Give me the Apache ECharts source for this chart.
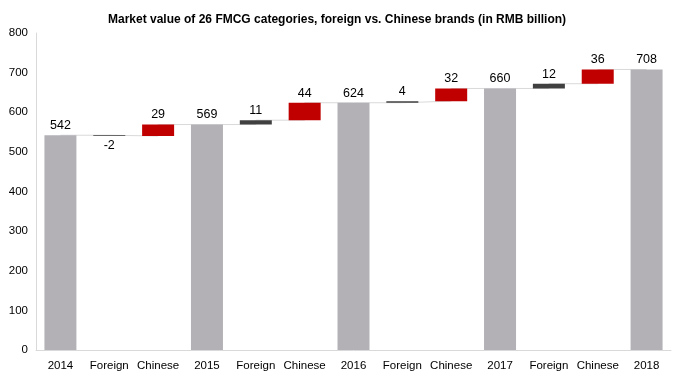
<!DOCTYPE html>
<html>
<head>
<meta charset="utf-8">
<script src="https://cdn.jsdelivr.net/npm/echarts@6/dist/echarts.min.js"></script>
<style>html,body{margin:0;padding:0;background:#fff}#c{width:696px;height:392px}</style>
</head>
<body>
<div id="c"></div>
<script>
const titleText = 'Market value of 26 FMCG categories, foreign vs. Chinese brands (in RMB billion)';
const categories = ['2014','Foreign','Chinese','2015','Foreign','Chinese','2016','Foreign','Chinese','2017','Foreign','Chinese','2018'];
const values = [542, -2, 29, 569, 11, 44, 624, 4, 32, 660, 12, 36, 708];
const kinds = ['total','foreign','chinese','total','foreign','chinese','total','foreign','chinese','total','foreign','chinese','total'];
const yTicks = { min: 0, max: 800, interval: 100 };

const colors = { total: '#B3B1B6', foreign: '#404040', chinese: '#C00000' };

const base = [], height = [], ends = [];
let running = 0;
values.forEach((v, i) => {
  if (kinds[i] === 'total') {
    base.push(0); height.push(v); running = v;
  } else {
    if (v >= 0) { base.push(running); height.push(v); }
    else { base.push(running + v); height.push(-v); }
    running = running + v;
  }
  ends.push(running);
});

const chart = echarts.init(document.getElementById('c'), null, { renderer: 'canvas' });
const font = '"Liberation Sans", Arial, sans-serif';
chart.setOption({
  animation: false,
  title: {
    text: titleText, left: 103, top: 9,
    textStyle: { fontFamily: font, fontSize: 12, fontWeight: 'bold', color: '#000' }
  },
  grid: { left: 36, right: 25, top: 33, bottom: 42 },
  xAxis: {
    type: 'category', data: categories,
    axisLine: { lineStyle: { color: '#D9D9D9' } },
    axisTick: { show: false },
    axisLabel: { color: '#000', fontFamily: font, fontSize: 11.5, margin: 10, interval: 0 }
  },
  yAxis: {
    type: 'value', min: yTicks.min, max: yTicks.max, interval: yTicks.interval,
    axisLine: { show: true, lineStyle: { color: '#D9D9D9' } },
    axisTick: { show: false },
    splitLine: { show: false },
    axisLabel: { color: '#000', fontFamily: font, fontSize: 11.5, margin: 8 }
  },
  series: [
    {
      type: 'line', data: ends, step: 'end', symbol: 'none', z: 1,
      lineStyle: { color: '#D9D9D9', width: 1 }, silent: true
    },
    {
      type: 'bar', stack: 'w', data: base, barWidth: 32, z: 2,
      itemStyle: { color: 'transparent' }, silent: true
    },
    {
      type: 'bar', stack: 'w', barWidth: 32, z: 3,
      data: height.map((h, i) => ({
        value: h,
        itemStyle: { color: colors[kinds[i]] },
        label: {
          show: true,
          position: values[i] < 0 ? 'bottom' : 'top',
          formatter: String(values[i]),
          color: '#000', fontFamily: font, fontSize: 12.5, distance: 3
        }
      }))
    }
  ]
});
</script>
</body>
</html>
